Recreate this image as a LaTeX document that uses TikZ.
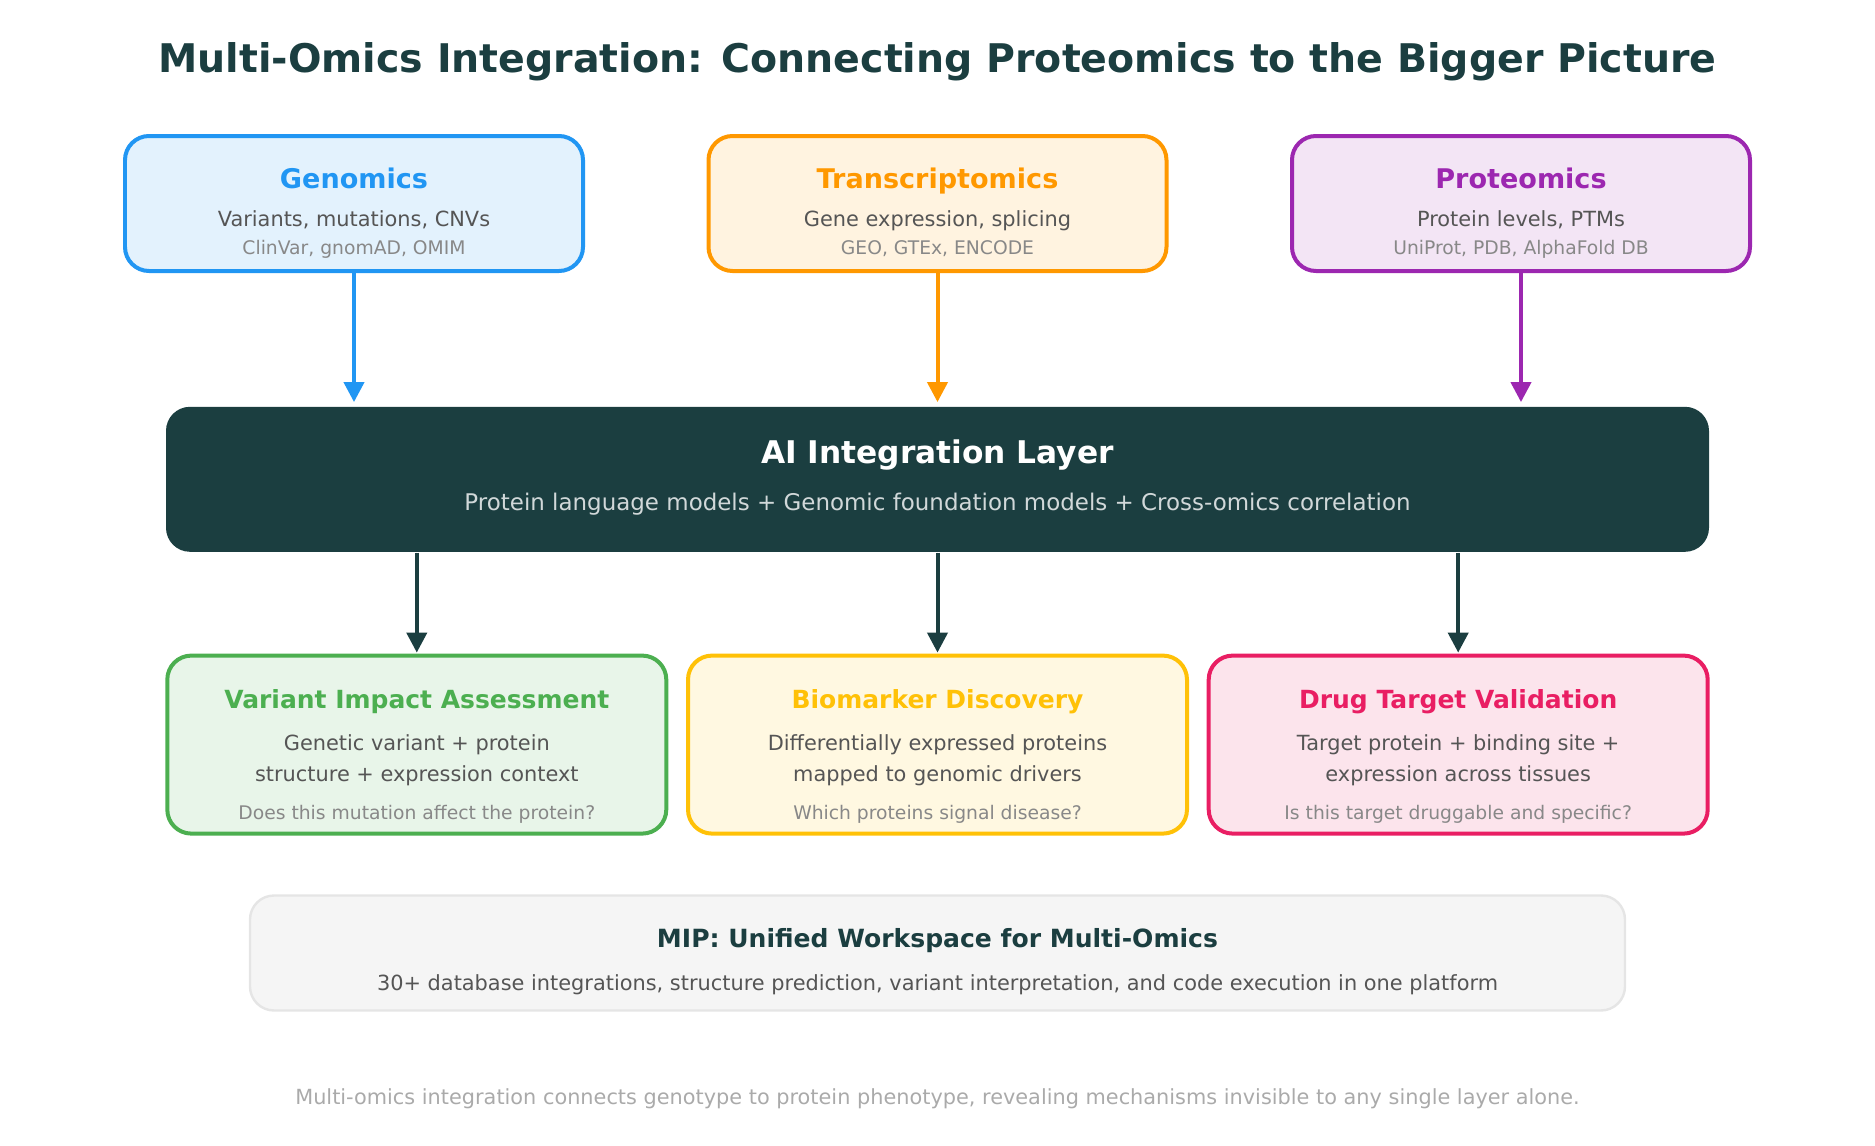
\documentclass[tikz,border=0pt]{standalone}
\usepackage{fontspec}
\setmainfont{DejaVu Sans}
\usetikzlibrary{arrows.meta, positioning, calc}
\definecolor{darkteal}{HTML}{1B3E40}
\definecolor{textgray}{HTML}{555555}
\definecolor{notegray}{HTML}{888888}
\definecolor{footgray}{HTML}{AAAAAA}
\definecolor{subteal}{HTML}{D1D8D9}
\definecolor{genomicscolor}{HTML}{2196F3}
\definecolor{genomicsfill}{HTML}{E3F2FD}
\definecolor{transcolor}{HTML}{FF9800}
\definecolor{transfill}{HTML}{FFF3E0}
\definecolor{proteocolor}{HTML}{9C27B0}
\definecolor{proteofill}{HTML}{F3E5F5}
\definecolor{variantcolor}{HTML}{4CAF50}
\definecolor{variantfill}{HTML}{E8F5E9}
\definecolor{markercolor}{HTML}{FFC107}
\definecolor{markerfill}{HTML}{FFF8E1}
\definecolor{drugcolor}{HTML}{E91E63}
\definecolor{drugfill}{HTML}{FCE4EC}

\begin{document}
\begin{tikzpicture}[
  omicsbox/.style={
    rectangle,
    rounded corners=0.24cm,
    line width=0.04cm,
    minimum width=4.58cm,
    minimum height=1.35cm,
    inner sep=0pt
  },
  resultbox/.style={
    omicsbox,
    minimum width=4.99cm,
    minimum height=1.78cm
  },
  headlabel/.style={anchor=base, inner sep=0pt, font=\fontsize{7.7pt}{9pt}\selectfont\bfseries},
  resulthead/.style={anchor=base, inner sep=0pt, font=\fontsize{7.11pt}{8pt}\selectfont\bfseries},
  bodylabel/.style={anchor=base, inner sep=0pt, font=\fontsize{5.94pt}{7pt}\selectfont, text=textgray},
  notelabel/.style={anchor=base, inner sep=0pt, font=\fontsize{5.33pt}{6pt}\selectfont, text=notegray},
  flow/.style={-{Triangle[length=0.2cm,width=0.2cm]}, line width=0.04cm}
]
  \useasboundingbox (0,0) rectangle (18.75,-11.46);

  % Title
  \node[anchor=base, inner sep=0pt, font=\fontsize{11.23pt}{13pt}\selectfont\bfseries, text=darkteal] (title) at (9.375,-0.73)
    {Multi-Omics Integration: Connecting Proteomics to the Bigger Picture};

  % Row 1
  \node[omicsbox, draw=genomicscolor, fill=genomicsfill] (genomics) at (3.54,-2.035) {};
  \node[omicsbox, draw=transcolor, fill=transfill] (trans) at (9.375,-2.035) {};
  \node[omicsbox, draw=proteocolor, fill=proteofill] (proteo) at (15.21,-2.035) {};

  \node[headlabel, text=genomicscolor] (genomicshead) at (3.54,-1.88) {Genomics};
  \node[bodylabel] (genomicsbody) at (3.54,-2.26) {Variants, mutations, CNVs};
  \node[notelabel] (genomicsnote) at (3.54,-2.55) {ClinVar, gnomAD, OMIM};

  \node[headlabel, text=transcolor] (transhead) at (9.375,-1.88) {Transcriptomics};
  \node[bodylabel] (transbody) at (9.375,-2.26) {Gene expression, splicing};
  \node[notelabel] (transnote) at (9.375,-2.55) {GEO, GTEx, ENCODE};

  \node[headlabel, text=proteocolor] (proteohead) at (15.21,-1.88) {Proteomics};
  \node[bodylabel] (proteobody) at (15.21,-2.26) {Protein levels, PTMs};
  \node[notelabel] (proteonote) at (15.21,-2.55) {UniProt, PDB, AlphaFold DB};

  % Integration layer
  \node[rectangle, rounded corners=0.24cm, fill=darkteal, minimum width=15.43cm, minimum height=1.45cm] (layer) at (9.375,-4.793) {};
  \node[anchor=base, inner sep=0pt, font=\fontsize{8.89pt}{10pt}\selectfont\bfseries, text=white] (layerhead) at (9.375,-4.63) {AI Integration Layer};
  \node[anchor=base, inner sep=0pt, font=\fontsize{6.53pt}{8pt}\selectfont, text=subteal] (layerbody) at (9.375,-5.1)
    {Protein language models + Genomic foundation models + Cross-omics correlation};

  % Row 3
  \node[resultbox, draw=variantcolor, fill=variantfill] (variant) at (4.168,-7.446) {};
  \node[resultbox, draw=markercolor, fill=markerfill] (marker) at (9.375,-7.446) {};
  \node[resultbox, draw=drugcolor, fill=drugfill] (drug) at (14.582,-7.446) {};

  \node[resulthead, text=variantcolor] (varianthead) at (4.168,-7.085) {Variant Impact Assessment};
  \node[bodylabel] (variantbodya) at (4.168,-7.5) {Genetic variant + protein};
  \node[bodylabel] (variantbodyb) at (4.168,-7.815) {structure + expression context};
  \node[notelabel] (variantnote) at (4.168,-8.19) {Does this mutation affect the protein?};

  \node[resulthead, text=markercolor] (markerhead) at (9.375,-7.085) {Biomarker Discovery};
  \node[bodylabel] (markerbodya) at (9.375,-7.5) {Differentially expressed proteins};
  \node[bodylabel] (markerbodyb) at (9.375,-7.815) {mapped to genomic drivers};
  \node[notelabel] (markernote) at (9.375,-8.19) {Which proteins signal disease?};

  \node[resulthead, text=drugcolor] (drughead) at (14.582,-7.085) {Drug Target Validation};
  \node[bodylabel] (drugbodya) at (14.582,-7.5) {Target protein + binding site +};
  \node[bodylabel] (drugbodyb) at (14.582,-7.815) {expression across tissues};
  \node[notelabel] (drugnote) at (14.582,-8.19) {Is this target druggable and specific?};

  % Platform box
  \node[rectangle, rounded corners=0.24cm, draw=black!10, line width=0.024cm, fill=black!4, minimum width=13.75cm, minimum height=1.15cm] (mip) at (9.375,-9.53) {};
  \node[anchor=base, inner sep=0pt, font=\fontsize{7.13pt}{8pt}\selectfont\bfseries, text=darkteal] (miphead) at (9.375,-9.47) {MIP: Unified Workspace for Multi-Omics};
  \node[bodylabel] (mipbody) at (9.375,-9.905) {30+ database integrations, structure prediction, variant interpretation, and code execution in one platform};

  % Footer
  \node[anchor=base, inner sep=0pt, font=\fontsize{5.93pt}{7pt}\selectfont, text=footgray] (footer) at (9.375,-11.044)
    {Multi-omics integration connects genotype to protein phenotype, revealing mechanisms invisible to any single layer alone.};

  % Arrows into the layer
  \draw[flow, draw=genomicscolor, fill=genomicscolor, shorten >=0.04cm] (genomics.south) -- (genomics.south |- layer.north);
  \draw[flow, draw=transcolor, fill=transcolor, shorten >=0.04cm] (trans.south) -- (trans.south |- layer.north);
  \draw[flow, draw=proteocolor, fill=proteocolor, shorten >=0.04cm] (proteo.south) -- (proteo.south |- layer.north);

  % Arrows out of the layer
  \draw[flow, draw=darkteal, fill=darkteal, shorten >=0.01cm] (layer.south -| variant.north) -- (variant.north);
  \draw[flow, draw=darkteal, fill=darkteal, shorten >=0.01cm] (layer.south -| marker.north) -- (marker.north);
  \draw[flow, draw=darkteal, fill=darkteal, shorten >=0.01cm] (layer.south -| drug.north) -- (drug.north);
\end{tikzpicture}
\end{document}
